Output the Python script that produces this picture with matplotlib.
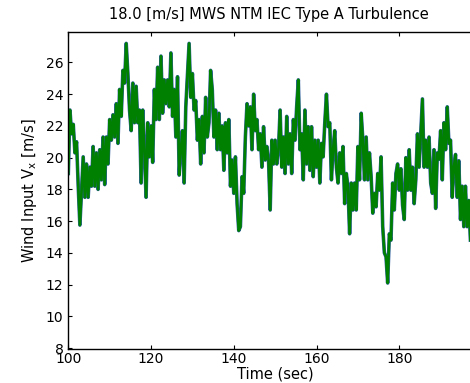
import numpy as np
import matplotlib
matplotlib.use("Agg")
import matplotlib.pyplot as plt

plt.rcParams['font.family'] = ['DejaVu Sans']
plt.rcParams['mathtext.default'] = 'regular'

title = "18.0 [m/s] MWS NTM IEC Type A Turbulence"
xlabel = "Time (sec)"
ylabel = "Wind Input V$_x$ [m/s]"
xticks = [100, 120, 140, 160, 180]
yticks = [8, 10, 12, 14, 16, 18, 20, 22, 24, 26]

t_start = 100.0
dt = 0.4
wind = [
    19.0, 23.0, 21.5, 22.1, 20.3, 21.0, 18.2, 15.75, 17.95, 20.05,
    17.5, 19.6, 17.5, 19.4, 18.2, 20.7, 18.2, 20.3, 18.0, 20.5,
    18.6, 21.3, 18.3, 21.3, 19.6, 22.4, 21.1, 22.7, 21.3, 23.4,
    20.9, 24.3, 22.6, 25.5, 24.7, 27.2, 25.3, 23.0, 21.7, 24.7,
    22.2, 24.5, 22.2, 23.0, 18.4, 23.0, 20.5, 17.5, 22.2, 20.05,
    22.0, 19.7, 24.3, 22.4, 25.7, 22.4, 26.4, 22.8, 24.9, 23.4,
    24.9, 23.2, 26.6, 22.6, 24.3, 21.3, 25.1, 18.9, 20.5, 21.7,
    18.4, 23.2, 25.2, 27.2, 23.8, 25.3, 23.0, 23.6, 21.1, 22.4,
    19.6, 22.6, 20.3, 23.8, 21.3, 22.2, 25.5, 24.3, 21.3, 23.0,
    20.5, 22.8, 20.5, 22.0, 19.2, 22.2, 20.3, 22.4, 18.2, 19.85,
    17.75, 20.05, 17.1, 15.4, 15.65, 18.8, 17.75, 21.3, 23.4, 22.0,
    23.2, 20.5, 24.0, 21.7, 22.4, 20.5, 21.5, 19.4, 21.95, 19.85,
    20.7, 19.85, 16.7, 21.1, 19.6, 21.1, 19.6, 20.5, 23.0, 19.4,
    21.3, 19.0, 22.6, 19.6, 21.5, 19.0, 22.4, 21.1, 23.2, 24.9,
    20.5, 21.5, 18.6, 23.0, 19.6, 21.95, 19.2, 21.95, 18.8, 21.1,
    19.4, 21.1, 18.4, 20.9, 20.05, 22.2, 24.0, 21.95, 22.2, 18.6,
    20.5, 21.7, 19.4, 18.4, 20.3, 19.0, 20.7, 17.1, 19.0, 18.2,
    15.2, 18.4, 16.7, 18.4, 16.7, 20.7, 18.6, 22.8, 21.1, 18.6,
    21.3, 18.6, 20.3, 18.8, 16.5, 17.75, 16.9, 19.0, 17.95, 20.05,
    15.65, 14.0, 13.75, 12.1, 15.2, 14.8, 18.4, 16.7, 19.0, 19.6,
    17.95, 19.3, 17.0, 16.1, 20.0, 17.95, 20.5, 17.95, 19.4, 17.1,
    18.6, 21.5, 19.4, 21.5, 23.7, 19.4, 21.1, 19.4, 21.3, 18.4,
    17.75, 20.5, 16.8, 20.3, 19.9, 21.7, 18.6, 22.2, 20.5, 23.2,
    20.9, 21.1, 17.5, 19.4, 20.2, 17.5, 19.8, 16.1, 18.2, 15.65,
    18.2, 15.65, 17.3, 14.8,
]
time = t_start + dt * np.arange(len(wind))

W, H = 470, 383
fig = plt.figure(figsize=(W / 100, H / 100), dpi=100)
left, right = 68.3, 482.0
top, bottom = 32.3, 349.3
ax = fig.add_axes([left / W, 1 - bottom / H, (right - left) / W, (bottom - top) / H])

ax.plot(time, wind, color='#2f5f9f', lw=2.6)
ax.plot(time, wind, color='#008000', lw=1.9)

ax.set_xlim(100, 200)
ax.set_ylim(7.92, 27.9)
ax.set_xticks(xticks)
ax.set_yticks(yticks)
ax.tick_params(direction='in', top=True, right=True, length=3, width=0.8,
               labelsize=10, colors='black')
ax.tick_params(axis='x', pad=2)
for s in ax.spines.values():
    s.set_linewidth(1.0)

ax.set_xlabel(xlabel, fontsize=10.5, labelpad=0)
ax.set_ylabel(ylabel, fontsize=10.5, labelpad=5)
fig.text(269 / W, 1 - 15 / H, title, ha='center', va='center', fontsize=10.5)

fig.savefig("out.png", dpi=100)
